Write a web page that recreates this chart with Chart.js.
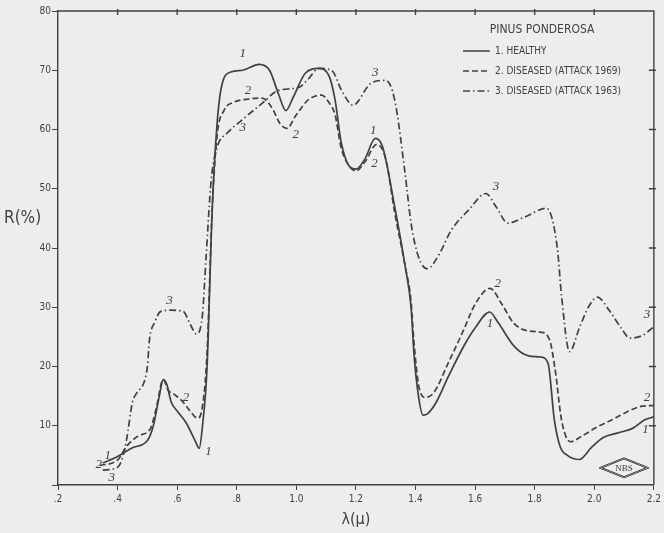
<!DOCTYPE html>
<html>
<head>
<meta charset="utf-8">
<script src="https://cdn.jsdelivr.net/npm/chart.js@4/dist/chart.umd.min.js"></script>
<style>
    html, body { margin: 0; padding: 0; background: #eeedeb; }
    canvas { display: block; }
</style>
</head>
<body>
<canvas id="ponderosaChart" width="664" height="533"></canvas>
<script>
// Spectral reflectance of Pinus ponderosa needles
// wavelength in micron, reflectance in %

// 1. Healthy
const healthyLambda = [0.35, 0.40, 0.45, 0.50, 0.52, 0.54, 0.553, 0.565, 0.58, 0.60, 0.63, 0.66, 0.674, 0.685, 0.70, 0.718, 0.734, 0.75, 0.78, 0.82, 0.875, 0.91, 0.94, 0.965, 0.99, 1.03, 1.075, 1.11, 1.13, 1.15, 1.175, 1.20, 1.23, 1.265, 1.29, 1.33, 1.365, 1.385, 1.395, 1.41, 1.425, 1.44, 1.47, 1.51, 1.566, 1.60, 1.649, 1.676, 1.733, 1.78, 1.82, 1.845, 1.866, 1.886, 1.91, 1.95, 1.99, 2.03, 2.08, 2.13, 2.17, 2.20];
const healthyR      = [3.7, 4.8, 6.3, 7.5, 10, 15, 17.8, 17, 14, 12.5, 10.5, 7.5, 6.2, 10, 19.5, 47, 61, 67.5, 69.7, 70, 71, 70, 66, 63.2, 65.5, 69.5, 70.3, 69, 65, 58, 54, 53.3, 55, 58.5, 57, 47, 37, 30, 22, 15, 11.8, 12, 14, 18.3, 23.8, 26.5, 29.2, 27.5, 23.3, 21.8, 21.6, 20.5, 11, 6.4, 5, 4.3, 6.3, 8, 8.8, 9.6, 11, 11.5];

// 2. Diseased (attack 1969)
const attack69Lambda = [0.34, 0.40, 0.43, 0.47, 0.51, 0.53, 0.553, 0.57, 0.59, 0.62, 0.64, 0.668, 0.684, 0.70, 0.718, 0.734, 0.757, 0.79, 0.818, 0.885, 0.92, 0.945, 0.968, 1.00, 1.04, 1.085, 1.11, 1.13, 1.15, 1.175, 1.20, 1.23, 1.27, 1.30, 1.33, 1.365, 1.385, 1.395, 1.41, 1.43, 1.46, 1.51, 1.56, 1.60, 1.65, 1.69, 1.73, 1.78, 1.82, 1.85, 1.87, 1.89, 1.92, 1.96, 2.01, 2.06, 2.12, 2.16, 2.20];
const attack69R      = [3.3, 4.2, 6.5, 8.3, 9.5, 13, 17.8, 16, 15.3, 14, 12.7, 11.3, 13, 22, 47, 59, 63.2, 64.6, 65, 65.3, 63.5, 61, 60.2, 62.5, 65, 65.8, 64.5, 62.5, 57, 54, 53, 54.5, 57.5, 55, 46, 37, 31, 24, 17, 14.8, 15.5, 20.6, 26, 30.5, 33.2, 30.5, 27.3, 26, 25.8, 24.5, 19, 11, 7.3, 8.3, 9.8, 11, 12.6, 13.3, 13.4];

// 3. Diseased (attack 1963)
const attack63Lambda = [0.35, 0.40, 0.414, 0.43, 0.45, 0.464, 0.49, 0.50, 0.507, 0.525, 0.545, 0.58, 0.62, 0.645, 0.664, 0.684, 0.697, 0.714, 0.734, 0.768, 0.815, 0.885, 0.94, 1.008, 1.04, 1.075, 1.118, 1.152, 1.19, 1.25, 1.30, 1.33, 1.365, 1.385, 1.41, 1.44, 1.48, 1.52, 1.58, 1.636, 1.67, 1.71, 1.765, 1.84, 1.876, 1.89, 1.917, 1.95, 1.98, 2.01, 2.05, 2.09, 2.12, 2.16, 2.20];
const attack63R      = [2.5, 3, 4.2, 7.6, 14, 15.5, 17.5, 20, 24.5, 27.5, 29.3, 29.5, 29.3, 27, 25.5, 28.3, 38.4, 51.4, 57, 59.4, 61.5, 64.4, 66.6, 67.1, 68.5, 70.3, 70, 66.6, 64.1, 67.8, 68.3, 65, 52.6, 44.2, 38.5, 36.5, 39, 43, 46.5, 49.2, 47, 44.2, 45.2, 46.7, 40, 32, 22.5, 26.5, 30, 31.7, 29.5, 26.5, 24.8, 25.2, 26.7];

// Axis ticks
const xTickValues = [0.2, 0.4, 0.6, 0.8, 1.0, 1.2, 1.4, 1.6, 1.8, 2.0, 2.2];
const xTickLabels = ['.2', '.4', '.6', '.8', '1.0', '1.2', '1.4', '1.6', '1.8', '2.0', '2.2'];
const yTickValues = [0, 10, 20, 30, 40, 50, 60, 70, 80];
const yTickLabels = ['', '10', '20', '30', '40', '50', '60', '70', '80'];

// Curve numbers written next to the curves: [text, lambda, R]
const curveMarks = [
    ['1', 0.367, 5.0], ['2', 0.337, 3.5], ['3', 0.38, 1.3],
    ['3', 0.574, 31.2], ['2', 0.63, 14.7], ['1', 0.705, 5.6],
    ['1', 0.82, 72.8], ['2', 0.838, 66.6], ['3', 0.82, 60.4],
    ['2', 0.998, 59.2],
    ['3', 1.265, 69.6], ['1', 1.258, 59.9], ['2', 1.262, 54.3],
    ['3', 1.67, 50.3], ['2', 1.676, 34], ['1', 1.65, 27.3],
    ['3', 2.177, 28.7], ['2', 2.177, 14.8], ['1', 2.172, 9.3]
];

const inkColor = '#414141';
const smallFont = "'Liberation Sans Narrow', 'DejaVu Sans Condensed', 'DejaVu Sans', sans-serif";

const toPoints = (xs, ys) => xs.map((x, i) => ({ x: x, y: ys[i] }));

// Frame, inward ticks, curve numbers, R(%) title and the NBS stamp
const platePlugin = {
    id: 'plate',
    afterLayout(chart) {
        // put the legend in the upper right corner of the plot
        const lg = chart.legend;
        if (!lg) return;
        lg.left = 453;
        lg.top = chart.chartArea.top + 13;
        lg.right = lg.left + lg.width;
        lg.bottom = lg.top + lg.height;
    },
    afterDatasetsDraw(chart) {
        const { ctx, chartArea: a, scales: { x, y } } = chart;
        ctx.save();

        // top and right border with small ticks
        ctx.strokeStyle = inkColor;
        ctx.lineWidth = 1.4;
        ctx.beginPath();
        ctx.moveTo(a.left, a.top);
        ctx.lineTo(a.right, a.top);
        ctx.lineTo(a.right, a.bottom);
        for (const v of xTickValues.slice(1, -1)) {
            const px = x.getPixelForValue(v);
            ctx.moveTo(px, a.top - 2);
            ctx.lineTo(px, a.top + 4);
        }
        for (const v of yTickValues.slice(1, -1)) {
            const py = y.getPixelForValue(v);
            ctx.moveTo(a.right + 2, py);
            ctx.lineTo(a.right - 5, py);
        }
        ctx.stroke();

        // curve numbers
        ctx.fillStyle = inkColor;
        ctx.font = "italic 13px 'Liberation Serif', 'DejaVu Serif', serif";
        ctx.textAlign = 'center';
        ctx.textBaseline = 'middle';
        for (const [txt, lx, ly] of curveMarks) {
            ctx.fillText(txt, x.getPixelForValue(lx), y.getPixelForValue(ly));
        }

        // y title, written horizontally as on the plate
        ctx.font = "17px " + smallFont;
        ctx.textAlign = 'left';
        ctx.fillText('R(%)', 4, y.getPixelForValue(45));

        // NBS stamp
        const cx = x.getPixelForValue(2.10);
        const cy = y.getPixelForValue(2.9);
        ctx.lineWidth = 1;
        for (const s of [0, 3]) {
            ctx.beginPath();
            ctx.moveTo(cx - 25 + s, cy);
            ctx.lineTo(cx, cy - 10 + s * 0.4);
            ctx.lineTo(cx + 25 - s, cy);
            ctx.lineTo(cx, cy + 10 - s * 0.4);
            ctx.closePath();
            ctx.stroke();
        }
        ctx.font = "9px 'Liberation Serif', 'DejaVu Serif', serif";
        ctx.textAlign = 'center';
        ctx.fillText('NBS', cx, cy + 0.5);

        ctx.restore();
    }
};

const createPonderosaChart = () => {
    const ctx = document.getElementById('ponderosaChart').getContext('2d');

    const lineStyle = {
        borderColor: inkColor,
        backgroundColor: inkColor,
        borderWidth: 1.7,
        pointRadius: 0,
        cubicInterpolationMode: 'monotone',
        fill: false
    };

    new Chart(ctx, {
        type: 'line',
        data: {
            datasets: [
                { ...lineStyle, label: '1. HEALTHY', data: toPoints(healthyLambda, healthyR) },
                { ...lineStyle, label: '2. DISEASED (ATTACK 1969)', data: toPoints(attack69Lambda, attack69R), borderDash: [6, 3] },
                { ...lineStyle, label: '3. DISEASED (ATTACK 1963)', data: toPoints(attack63Lambda, attack63R), borderDash: [7, 3, 1.5, 3] }
            ]
        },
        options: {
            responsive: false,
            animation: false,
            events: [],
            layout: {
                padding: { top: 11, right: 7, left: 0, bottom: 0 }
            },
            plugins: {
                tooltip: { enabled: false },
                legend: {
                    position: 'chartArea',
                    align: 'start',
                    title: {
                        display: true,
                        text: 'PINUS PONDEROSA',
                        position: 'center',
                        color: inkColor,
                        font: { family: smallFont, size: 12, lineHeight: 1 },
                        padding: 0
                    },
                    labels: {
                        color: inkColor,
                        usePointStyle: true,
                        pointStyle: 'line',
                        pointStyleWidth: 27,
                        padding: 10,
                        font: { family: smallFont, size: 10 },
                        // the line samples keep the dash pattern of their dataset
                        generateLabels: (chart) => {
                            const items = Chart.defaults.plugins.legend.labels.generateLabels(chart);
                            items.forEach(it => {
                                const ds = chart.data.datasets[it.datasetIndex];
                                it.lineDash = ds.borderDash || [];
                                it.lineWidth = 1.5;
                                it.strokeStyle = inkColor;
                            });
                            return items;
                        }
                    }
                }
            },
            scales: {
                x: {
                    type: 'linear',
                    min: 0.2,
                    max: 2.2,
                    afterBuildTicks: (scale) => {
                        scale.ticks = xTickValues.map(v => ({ value: v }));
                    },
                    afterFit: (scale) => { scale.height = 48; },
                    ticks: {
                        autoSkip: false,
                        maxRotation: 0,
                        padding: 3,
                        color: inkColor,
                        font: { family: smallFont, size: 10 },
                        callback: (v) => xTickLabels[xTickValues.indexOf(v)]
                    },
                    grid: {
                        drawOnChartArea: false,
                        tickLength: 5,
                        color: inkColor
                    },
                    border: { color: inkColor, width: 1.4 },
                    title: {
                        display: true,
                        text: 'λ(μ)',
                        color: inkColor,
                        font: { family: smallFont, size: 16 },
                        padding: { top: 0, bottom: 4 }
                    }
                },
                y: {
                    min: 0,
                    max: 80,
                    afterBuildTicks: (scale) => {
                        scale.ticks = yTickValues.map(v => ({ value: v }));
                    },
                    afterFit: (scale) => { scale.width = 58; },
                    ticks: {
                        padding: 1,
                        color: inkColor,
                        font: { family: smallFont, size: 10 },
                        callback: (v) => yTickLabels[yTickValues.indexOf(v)]
                    },
                    grid: {
                        drawOnChartArea: false,
                        tickLength: 6,
                        color: inkColor
                    },
                    border: { color: inkColor, width: 1.4 }
                }
            }
        },
        plugins: [platePlugin]
    });
};

createPonderosaChart();
</script>
</body>
</html>
